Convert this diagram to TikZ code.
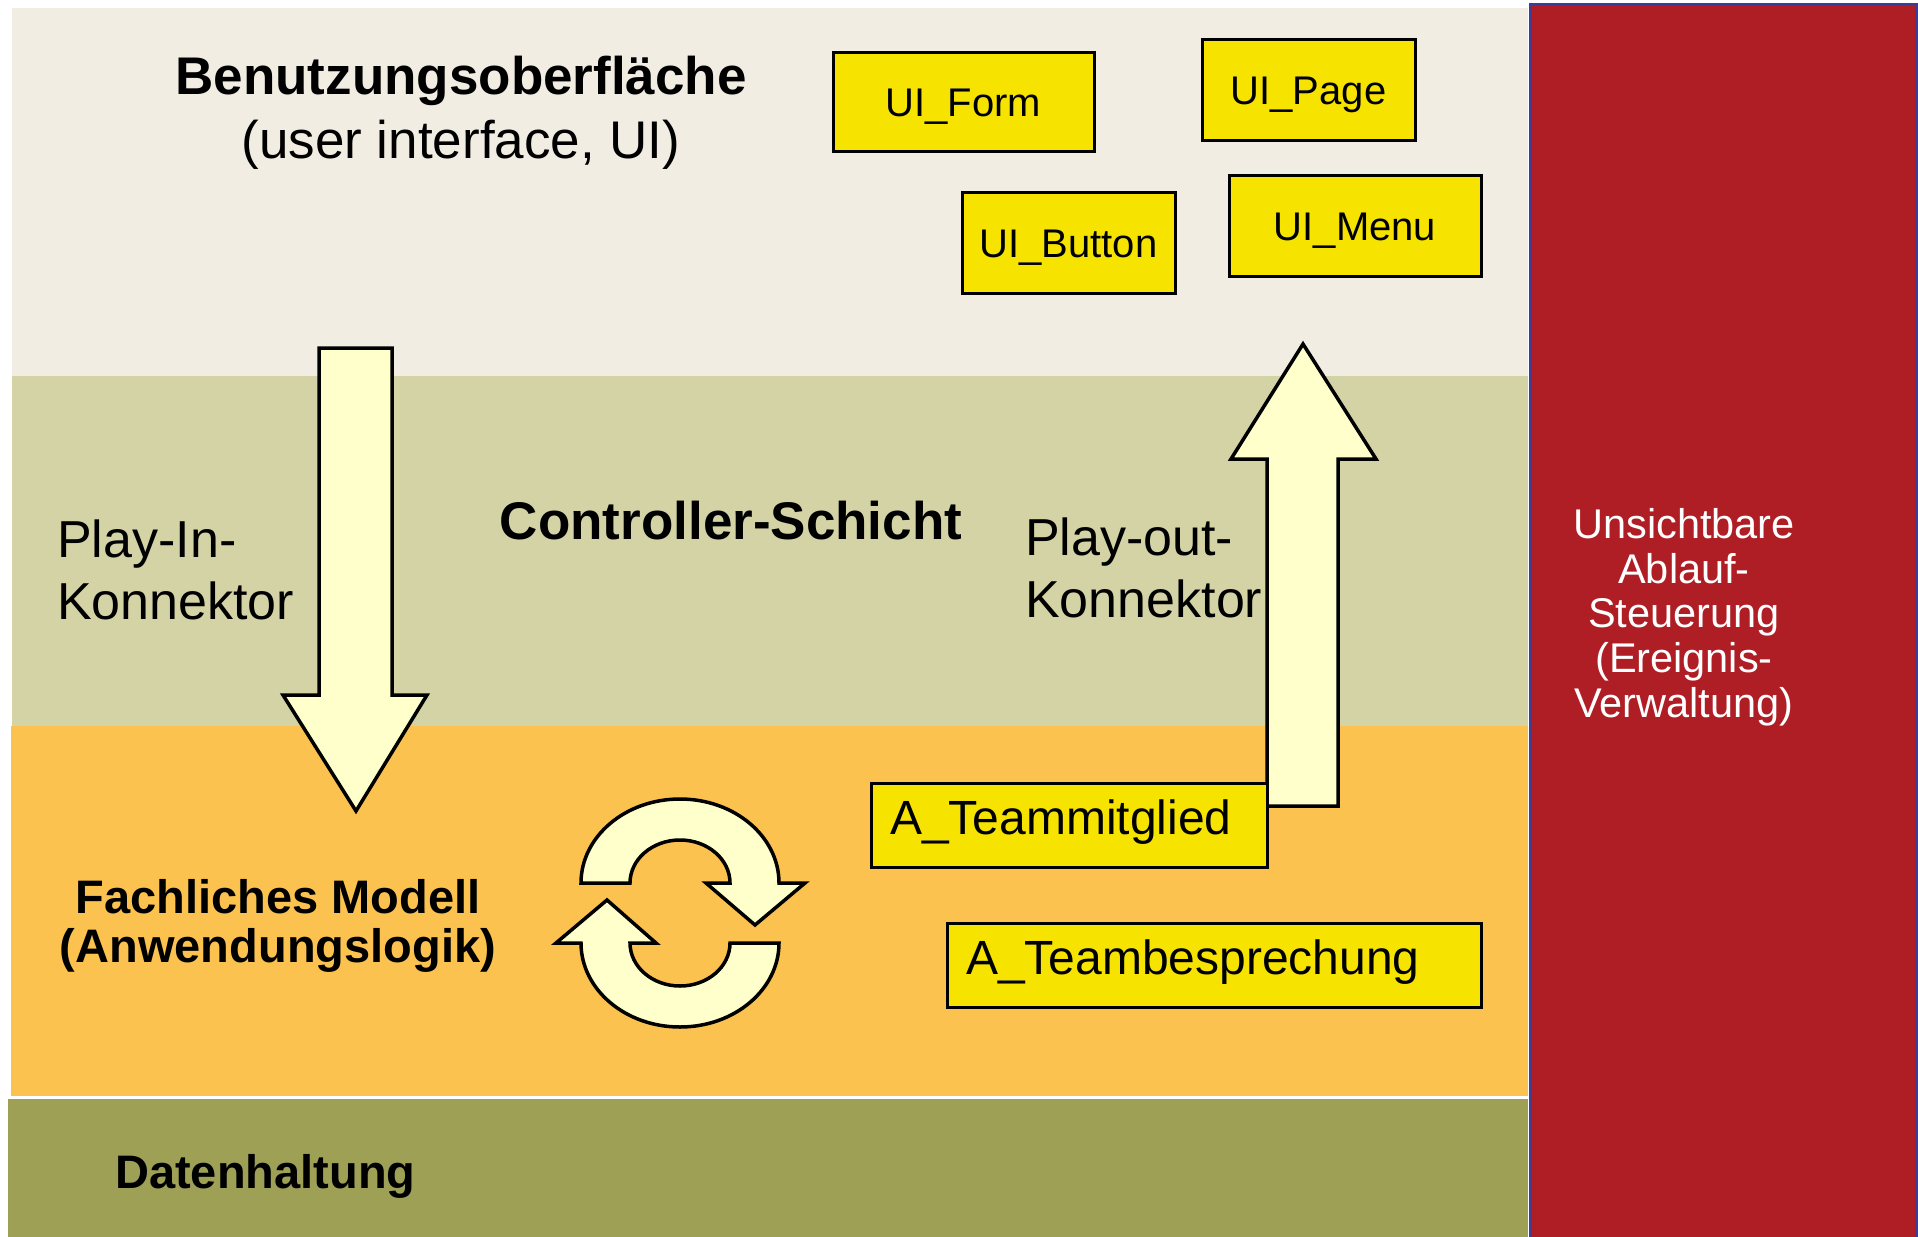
\documentclass[tikz,border=0pt]{standalone}
\usepackage{fontspec}
\setmainfont{Liberation Sans}
\definecolor{uibeige}{HTML}{F1EDE2}
\definecolor{ctrlolive}{HTML}{D4D3A5}
\definecolor{modelorange}{HTML}{FBC24F}
\definecolor{dataolive}{HTML}{9EA055}
\definecolor{ctrlred}{HTML}{AF1E24}
\definecolor{ctrlblue}{HTML}{3C3C99}
\definecolor{boxyellow}{HTML}{F6E400}
\definecolor{arrowfill}{HTML}{FFFFCC}
\newcommand\fsUI{\fontsize{40}{48}\selectfont}
\newcommand\fsA{\fontsize{48}{56}\selectfont}
\newcommand\fsBig{\fontsize{53}{64}\selectfont}
\newcommand\fsPlay{\fontsize{52}{62}\selectfont}
\newcommand\fsModel{\fontsize{47}{49}\selectfont}
\newcommand\fsRed{\fontsize{41.5}{44.6}\selectfont}
\begin{document}
\begin{tikzpicture}[x=1pt,y=-1pt,
  uibox/.style={draw=black, line width=3pt, fill=boxyellow, inner sep=0pt, font=\fsUI, align=center, text height=36pt, text depth=6pt},
  abox/.style={draw=black, line width=3pt, fill=boxyellow, inner xsep=19pt, inner ysep=0pt, font=\fsA, align=left, text height=36pt, text depth=18pt},
  blockarrow/.style={draw=black, line width=3.5pt, fill=arrowfill, line join=miter},
  cyclearrow/.style={draw=black, line width=3.5pt, fill=arrowfill, line join=miter},
  lbl/.style={inner sep=0pt, text=black}]
\useasboundingbox (0,0) rectangle (1918,1236);
\fill[white] (0,0) rectangle (1918,1236);
% layers
\fill[uibeige] (12,8) rectangle (1528,376);
\fill[ctrlolive] (12,376) rectangle (1528,726);
\fill[modelorange] (11,726) rectangle (1528,1096);
\fill[dataolive] (8,1099) rectangle (1528,1240);
\draw[ctrlblue, line width=3pt, fill=ctrlred] (1530,5) rectangle (1916,1245);
% layer labels (anchor base = baseline of the last line)
\node[lbl, anchor=base, align=center, font=\fsBig] (uititle) at (461,158)
  {\bfseries Benutzungsoberfläche\\(user interface, UI)};
\node[lbl, anchor=base west, align=left, font=\fsPlay] (playin) at (57,619)
  {Play-In-\\Konnektor};
\node[lbl, anchor=base, font=\fsBig\bfseries] (ctrltitle) at (731,539) {Controller-Schicht};
\node[lbl, anchor=base west, align=left, font=\fsPlay] (playout) at (1025,617)
  {Play-out-\\Konnektor};
\node[lbl, anchor=base, align=center, font=\fsModel\bfseries] (modeltitle) at (278,962)
  {Fachliches Modell\\(Anwendungslogik)};
\node[lbl, anchor=base west, font=\fsModel\bfseries] (datatitle) at (115,1188) {Datenhaltung};
\node[lbl, anchor=base, align=center, font=\fsRed, text=white] (redtitle) at (1684,717)
  {Unsichtbare\\Ablauf-\\Steuerung\\(Ereignis-\\Verwaltung)};
% block arrows
\draw[blockarrow] (319,348) -- (392,348) -- (392,695) -- (427,695) -- (356,811)
  -- (283,695) -- (319,695) -- cycle;
\draw[blockarrow] (1267,806) -- (1338,806) -- (1338,459) -- (1376,459) -- (1303,344)
  -- (1231,459) -- (1267,459) -- cycle;
% cycle arrows
\draw[cyclearrow] (581,883) arc[start angle=180, end angle=360, x radius=99, y radius=84]
  -- (805,883) -- (755,925) -- (706,883) -- (730,883)
  arc[start angle=360, end angle=180, x radius=50, y radius=43] -- cycle;
\draw[cyclearrow] (779,943) arc[start angle=0, end angle=180, x radius=99, y radius=84]
  -- (556,943) -- (607,900) -- (656,943) -- (630,943)
  arc[start angle=180, end angle=0, x radius=50, y radius=43] -- cycle;
% UI boxes
\node[uibox, minimum width=261pt, minimum height=98pt] (uiform) at (963.5,102) {UI\_Form};
\node[uibox, minimum width=213pt, minimum height=100pt] (uipage) at (1308.5,90) {UI\_Page};
\node[uibox, minimum width=213pt, minimum height=101pt] (uibutton) at (1068.5,242.5) {UI\_Button};
\node[uibox, minimum width=252pt, minimum height=101pt] (uimenu) at (1355,225.5) {UI\_Menu};
% model boxes
\node[abox, text width=358pt, minimum height=84pt] (ateam) at (1069,825) {A\_Teammitglied};
\node[abox, text width=496pt, minimum height=84pt] (abesp) at (1214,965) {A\_Teambesprechung};
\end{tikzpicture}
\end{document}
